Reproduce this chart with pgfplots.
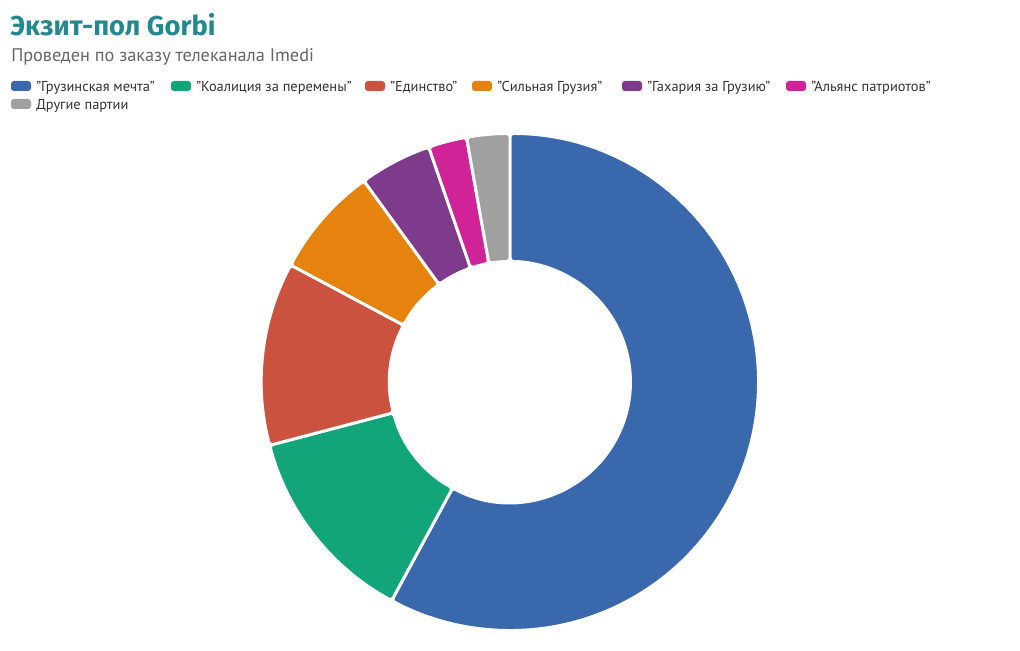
\documentclass[border=0pt]{standalone}
\usepackage{pgfplots}
\pgfplotsset{compat=1.18}
\usepackage{pgfplotstable}
\usepackage{fontspec}
\setmainfont{PT Sans}
\newfontfamily\titlefont{Fira Sans}
\definecolor{cBlue}{HTML}{3A68AD}
\definecolor{cGreen}{HTML}{13A57A}
\definecolor{cRed}{HTML}{CB523E}
\definecolor{cOrange}{HTML}{E6830F}
\definecolor{cPurple}{HTML}{7E3B8C}
\definecolor{cMagenta}{HTML}{D02398}
\definecolor{cGray}{HTML}{A0A0A0}
\definecolor{cTitle}{HTML}{23898F}
\definecolor{cSub}{HTML}{666666}
\definecolor{cLeg}{HTML}{333333}

\pgfplotstableread{
idx value
0 57.9
1 13.0
2 11.9
3 7.2
4 4.7
5 2.5
6 2.8
}\votes

\def\cx{510}
\def\cy{268}
\def\Ro{248.5}
\def\Ri{120.5}
\def\px{0.75}

\xdef\cum{0}
\foreach \i in {0,...,6}{%
  \pgfplotstablegetelem{\i}{value}\of\votes
  \pgfmathsetmacro\s{90-3.6*\cum}%
  \pgfmathsetmacro\nc{\cum+\pgfplotsretval}%
  \pgfmathsetmacro\e{90-3.6*\nc}%
  \pgfmathsetmacro\oxs{\cx+\Ro*cos(\s)}%
  \pgfmathsetmacro\oys{\cy+\Ro*sin(\s)}%
  \pgfmathsetmacro\ixe{\cx+\Ri*cos(\e)}%
  \pgfmathsetmacro\iye{\cy+\Ri*sin(\e)}%
  \expandafter\xdef\csname sa\i\endcsname{\s}%
  \expandafter\xdef\csname ea\i\endcsname{\e}%
  \expandafter\xdef\csname oxs\i\endcsname{\oxs}%
  \expandafter\xdef\csname oys\i\endcsname{\oys}%
  \expandafter\xdef\csname ixe\i\endcsname{\ixe}%
  \expandafter\xdef\csname iye\i\endcsname{\iye}%
  \xdef\cum{\nc}%
}

\pgfmathsetmacro\RoPt{\Ro*\px}
\pgfmathsetmacro\RiPt{\Ri*\px}

\newcommand\slice[2]{%
  \filldraw[fill=#2, draw=white, line width=2.2pt, rounded corners=2.5pt]
    (axis cs:\csname oxs#1\endcsname,\csname oys#1\endcsname)
    arc[start angle=\csname sa#1\endcsname, end angle=\csname ea#1\endcsname, radius=\RoPt pt]
    -- (axis cs:\csname ixe#1\endcsname,\csname iye#1\endcsname)
    arc[start angle=\csname ea#1\endcsname, end angle=\csname sa#1\endcsname, radius=\RiPt pt]
    -- cycle;}

\newcommand\q{\symbol{34}}
\newcommand\legitem[4]{% x of swatch, baseline y(px from top), color, text
  \fill[#3, rounded corners=2.2pt] (axis cs:#1,{650-#2+1}) rectangle (axis cs:{#1+20},{650-#2+11});
  \node[anchor=base west, inner sep=0pt, text=cLeg, font=\fontsize{10.8}{12}\selectfont] at (axis cs:{#1+25},{650-#2}) {#4};}

\begin{document}
\begin{tikzpicture}
\begin{axis}[x=0.75pt, y=0.75pt, xmin=0, xmax=1020, ymin=0, ymax=650,
  hide axis, clip=false, anchor=origin, at={(0,0)}]
\path (axis cs:0,0) rectangle (axis cs:1020,650);
\slice{0}{cBlue}
\slice{1}{cGreen}
\slice{2}{cRed}
\slice{3}{cOrange}
\slice{4}{cPurple}
\slice{5}{cMagenta}
\slice{6}{cGray}
\node[anchor=base west, inner sep=0pt, text=cTitle, font=\titlefont\fontsize{20.5}{24}\selectfont\bfseries] at (axis cs:10,614) {Экзит-пол Gorbi};
\node[anchor=base west, inner sep=0pt, text=cSub, font=\fontsize{13.7}{16}\selectfont] at (axis cs:11,588) {Проведен по заказу телеканала Imedi};
\legitem{11}{92}{cBlue}{\q Грузинская мечта\q}
\legitem{171}{92}{cGreen}{\q Коалиция за перемены\q}
\legitem{365}{92}{cRed}{\q Единство\q}
\legitem{472}{92}{cOrange}{\q Сильная Грузия\q}
\legitem{622}{92}{cPurple}{\q Гахария за Грузию\q}
\legitem{786}{92}{cMagenta}{\q Альянс патриотов\q}
\legitem{11}{110}{cGray}{Другие партии}
\end{axis}
\end{tikzpicture}
\end{document}
